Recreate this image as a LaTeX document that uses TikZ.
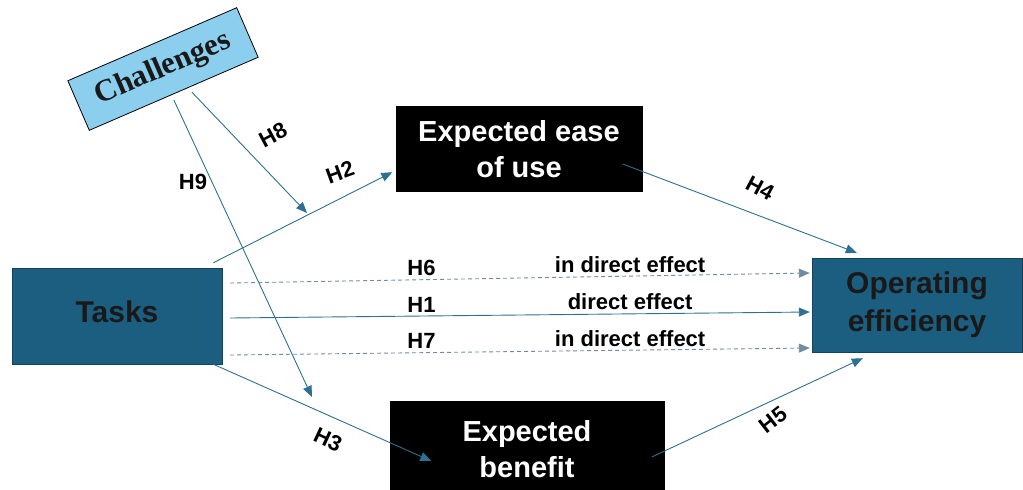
\documentclass[tikz,border=0pt]{standalone}
\usepackage{fontspec}
\setmainfont{Liberation Sans}
\newfontfamily\chalfont{Liberation Serif}
\usetikzlibrary{arrows.meta}
\definecolor{taskblue}{RGB}{27,94,128}
\definecolor{linkblue}{RGB}{46,112,145}
\definecolor{dashblue}{RGB}{112,140,160}
\definecolor{chalblue}{RGB}{140,206,238}
\begin{document}
\begin{tikzpicture}[x=1pt,y=-1pt,
  bluebox/.style={draw=taskblue!70!black,fill=taskblue,text=black!90,align=center,
    font=\bfseries\fontsize{30}{38}\selectfont},
  blkbox/.style={fill=black,text=white,align=center,font=\bfseries\fontsize{29}{36}\selectfont},
  chbox/.style={draw=black,thick,fill=chalblue,text=black!90,
    font=\chalfont\bfseries\fontsize{31}{32}\selectfont},
  conn/.style={draw=linkblue,line width=0.9pt,-{Triangle[length=11pt,width=9pt]}},
  dconn/.style={conn,draw=dashblue,dash pattern=on 4pt off 3pt},
  lbl/.style={font=\bfseries\fontsize{22}{24}\selectfont}]
  \useasboundingbox (0,0) rectangle (1023,490);
  % boxes
  \node[chbox,rotate=23.4,minimum width=184,minimum height=54] (chal) at (163,69) {Challenges};
  \node[blkbox,minimum width=247,minimum height=86] (ease) at (519,149) {Expected ease\\of use};
  \node[bluebox,minimum width=210,minimum height=96] (tasks) at (117,316) {\raisebox{9pt}{Tasks}};
  \node[bluebox,minimum width=210,minimum height=94] (eff) at (917,305) {Operating\\efficiency};
  \node[blkbox,minimum width=275,minimum height=96] (ben) at (527,449) {Expected\\benefit};
  % free ends
  \coordinate (h8end) at (307,213);
  \coordinate (h9end) at (312,397);
  % arrows
  \draw[conn] ([xshift=-9,yshift=5]tasks.north east) -- ([xshift=-3,yshift=20]ease.south west);
  \draw[conn] ([xshift=18,yshift=2]chal.south) -- (h8end);
  \draw[conn] ([yshift=-6]chal.south) -- (h9end);
  \draw[conn] ([xshift=-9]tasks.south east) -- ([xshift=42,yshift=-12]ben.west);
  \draw[conn] ([xshift=-20,yshift=-15]ease.east) -- ([xshift=45,yshift=5]eff.north west);
  \draw[conn] ([xshift=-13,yshift=-8]ben.east) -- ([xshift=51,yshift=-6]eff.south west);
  \foreach \ys/\ye/\ls/\hl/\tl in {33/32/dconn/H6/in direct effect,
      -2/-7/conn/H1/direct effect, -39/-43/dconn/H7/in direct effect}
    \draw[\ls] ([xshift=8,yshift=\ys]tasks.east) -- ([xshift=-2,yshift=\ye]eff.west)
      node[lbl,pos=0.33,above] {\hl} node[lbl,pos=0.69,above] {\tl};
  % hypothesis labels
  \node[lbl,rotate=20] (lh2) at (340,172) {H2};
  \node[lbl,rotate=28] (lh8) at (273,135) {H8};
  \node[lbl] (lh9) at (193,182) {H9};
  \node[lbl,rotate=-25] (lh3) at (328,440) {H3};
  \node[lbl,rotate=-28] (lh4) at (760,188) {H4};
  \node[lbl,rotate=38] (lh5) at (773,420) {H5};
\end{tikzpicture}
\end{document}
